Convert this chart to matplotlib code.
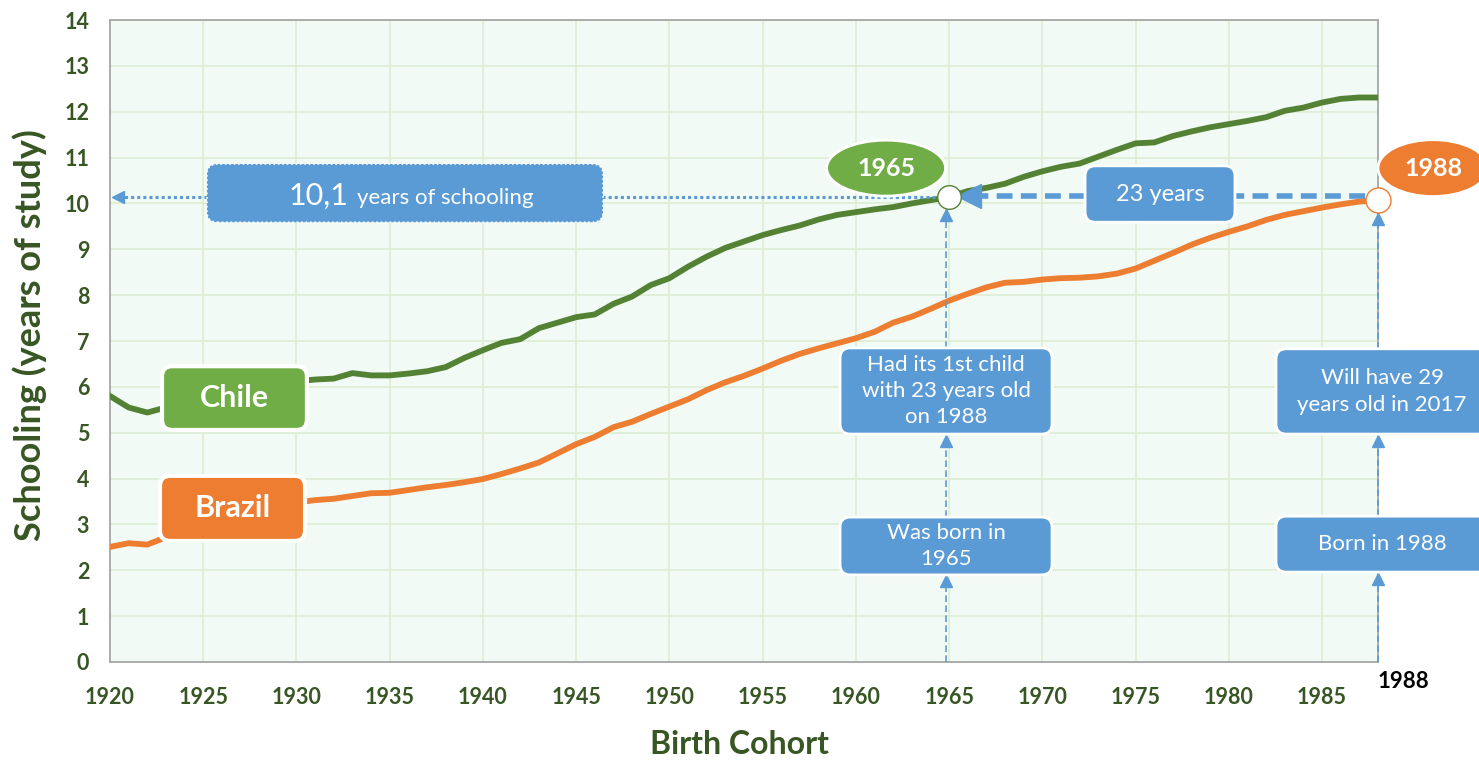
import numpy as np
import matplotlib
matplotlib.use("Agg")
import matplotlib.pyplot as plt
from matplotlib.patches import FancyBboxPatch, Ellipse

plt.rcParams['font.family'] = ['Lato', 'DejaVu Sans']

years = np.arange(1920, 1989)
chile = [5.80, 5.55, 5.44, 5.55, 5.65, 5.75, 5.85, 5.93, 6.00, 6.07,
         6.12, 6.16, 6.18, 6.30, 6.25, 6.25, 6.29, 6.34, 6.43, 6.63,
         6.80, 6.96, 7.04, 7.28, 7.40, 7.52, 7.58, 7.81, 7.97, 8.22,
         8.37, 8.62, 8.84, 9.03, 9.17, 9.31, 9.42, 9.52, 9.65, 9.75,
         9.81, 9.87, 9.92, 10.00, 10.07, 10.14, 10.27, 10.34, 10.43, 10.58,
         10.70, 10.80, 10.87, 11.02, 11.17, 11.31, 11.33, 11.47, 11.57, 11.66,
         11.73, 11.80, 11.88, 12.02, 12.09, 12.20, 12.28, 12.31, 12.31]
brazil = [2.51, 2.59, 2.56, 2.72, 2.88, 3.00, 3.10, 3.20, 3.30, 3.40,
          3.48, 3.53, 3.56, 3.62, 3.68, 3.69, 3.75, 3.81, 3.86, 3.92,
          3.99, 4.10, 4.22, 4.35, 4.55, 4.75, 4.91, 5.12, 5.24, 5.41,
          5.57, 5.73, 5.93, 6.10, 6.24, 6.40, 6.57, 6.72, 6.84, 6.95,
          7.06, 7.20, 7.40, 7.53, 7.70, 7.88, 8.03, 8.17, 8.27, 8.29,
          8.34, 8.37, 8.38, 8.41, 8.47, 8.58, 8.75, 8.92, 9.10, 9.25,
          9.38, 9.50, 9.64, 9.75, 9.83, 9.91, 9.98, 10.04, 10.07]
x_ticks = list(range(1920, 1990, 5))
y_ticks = list(range(0, 15))
mother_year = 1965
child_year = 1988

green_line = '#548235'
green_fill = '#70AD47'
orange = '#ED7D31'
blue = '#5B9BD5'
dark_green = '#375623'

fig = plt.figure(figsize=(14.79, 7.6), dpi=100)
ax = fig.add_axes([110 / 1479, 98 / 760, 1268 / 1479, 642 / 760])
ax.set_facecolor('#F1FAF4')
ax.set_xlim(1920, 1988)
ax.set_ylim(0, 14)
ax.set_xticks(x_ticks)
ax.set_yticks(y_ticks)
ax.grid(True, color='#DCEDD3', linewidth=1.2)
ax.set_axisbelow(True)
for s in ax.spines.values():
    s.set_color('#A6A6A6')
    s.set_linewidth(1.3)
ax.tick_params(length=0, labelsize=15.5, labelcolor=dark_green)
ax.tick_params(axis='y', pad=15)
ax.tick_params(axis='x', pad=18)
for lab in ax.get_xticklabels() + ax.get_yticklabels():
    lab.set_fontweight('bold')

ax.set_xlabel('Birth Cohort', fontsize=23, fontweight='bold', color=dark_green, va='center')
ax.set_ylabel('Schooling (years of study)', fontsize=26, fontweight='bold', color=dark_green, va='center')
ax.xaxis.set_label_coords(0.4965, -0.128)
ax.yaxis.set_label_coords(-0.063, 0.51)

ax.plot(years, chile, color=green_line, linewidth=4.2, solid_joinstyle='round', zorder=3)
ax.plot(years, brazil, color=orange, linewidth=4.2, solid_joinstyle='round', zorder=3)

# rounding that looks round in screen space
asp = (1 / 45.86) / (1 / 18.65)


def box(x0, x1, y0, y1, color, text=None, size=16, weight='normal', ls='-', lw=2):
    p = FancyBboxPatch((x0, y0), x1 - x0, y1 - y0,
                       boxstyle='round,pad=0,rounding_size=0.55',
                       mutation_aspect=asp, facecolor=color, edgecolor='white',
                       linewidth=lw, linestyle=ls, zorder=5, clip_on=False)
    ax.add_patch(p)
    if text:
        ax.text((x0 + x1) / 2, (y0 + y1) / 2, text, color='white', fontsize=size,
                fontweight=weight, ha='center', va='center', zorder=6,
                linespacing=1.4, clip_on=False)


def vline(x, y0, y1):
    ax.plot([x, x], [y0, y1 - 0.15], color=blue, linewidth=1.2,
            linestyle=(0, (4, 2)), zorder=4, clip_on=False)
    ax.plot(x, y1 - 0.14, marker='^', markersize=8, color=blue, zorder=4, clip_on=False)


# series labels
box(1922.79, 1930.56, 5.06, 6.45, green_fill, 'Chile', size=22, weight='bold', lw=3)
box(1922.68, 1930.46, 2.64, 4.06, orange, 'Brazil', size=22, weight='bold', lw=3)

i_m = list(years).index(mother_year)
i_c = list(years).index(child_year)
y_m = chile[i_m]
y_c = brazil[i_c]

# 10,1 years of schooling
ax.plot([1925.2, 1920.6], [y_m, y_m], color=blue, linewidth=2.2,
        linestyle=(0, (1, 1)), zorder=4)
ax.plot(1920.45, y_m, marker='<', markersize=9, color=blue, zorder=4)
ax.plot([1946.4, mother_year - 0.6], [y_m, y_m], color=blue, linewidth=2.2,
        linestyle=(0, (1, 1)), zorder=4)
box(1925.2, 1946.44, 9.59, 10.86, blue, ls=':', lw=1.2)
ax.text(1932.8, 9.98, '10,1', color='white', fontsize=22, ha='right',
        va='baseline', zorder=6)
ax.text(1933.25, 9.98, 'years of schooling', color='white', fontsize=16,
        ha='left', va='baseline', zorder=6)

# 23 years gap
ax.plot([child_year - 0.7, 1980.3], [10.17, 10.17], color=blue, linewidth=4,
        linestyle=(0, (2.85, 1.5)), zorder=4, clip_on=False)
ax.plot([1972.3, mother_year + 1.4], [10.17, 10.17], color=blue, linewidth=4,
        linestyle=(0, (2.85, 1.5)), zorder=4)
ax.plot(mother_year + 1.05, 10.17, marker='<', markersize=17, color=blue, zorder=4)
box(1972.29, 1980.33, 9.59, 10.82, blue, '23 years', size=17)

# vertical arrows
vline(1964.85, 0, 1.90)
vline(1964.85, 3.16, 4.97)
vline(1964.85, 6.85, y_m - 0.25)
vline(child_year, 0, 1.96)
vline(child_year, 3.18, 4.97)
vline(child_year, 6.83, y_c - 0.27)

box(1959.15, 1970.52, 4.97, 6.85, blue, 'Had its 1st child\nwith 23 years old\non 1988')
box(1959.15, 1970.52, 1.90, 3.16, blue, 'Was born in\n1965')
box(1982.53, 1993.9, 4.97, 6.83, blue, 'Will have 29\nyears old in 2017')
box(1982.53, 1993.9, 1.96, 3.18, blue, 'Born in 1988')

# year markers
ax.add_patch(Ellipse((1961.62, 10.77), 6.38, 1.22, facecolor=green_fill,
                     edgecolor='white', linewidth=2, zorder=5))
ax.text(1961.62, 10.77, '1965', color='white', fontsize=18, fontweight='bold',
        ha='center', va='center', zorder=6)
ax.add_patch(Ellipse((1990.95, 10.77), 5.9, 1.24, facecolor=orange,
                     edgecolor='white', linewidth=2, zorder=5, clip_on=False))
ax.text(1990.95, 10.77, '1988', color='white', fontsize=18, fontweight='bold',
        ha='center', va='center', zorder=6, clip_on=False)

ax.plot(mother_year, y_m, marker='o', markersize=17, markerfacecolor='white',
        markeredgecolor=green_line, markeredgewidth=1, zorder=7, clip_on=False)
ax.plot(child_year, y_c, marker='o', markersize=18, markerfacecolor='white',
        markeredgecolor=orange, markeredgewidth=1, zorder=7, clip_on=False)

ax.text(child_year, -0.2, '1988', color='black', fontsize=16, fontweight='bold',
        ha='left', va='top', clip_on=False)

fig.savefig('out.png', dpi=100)
